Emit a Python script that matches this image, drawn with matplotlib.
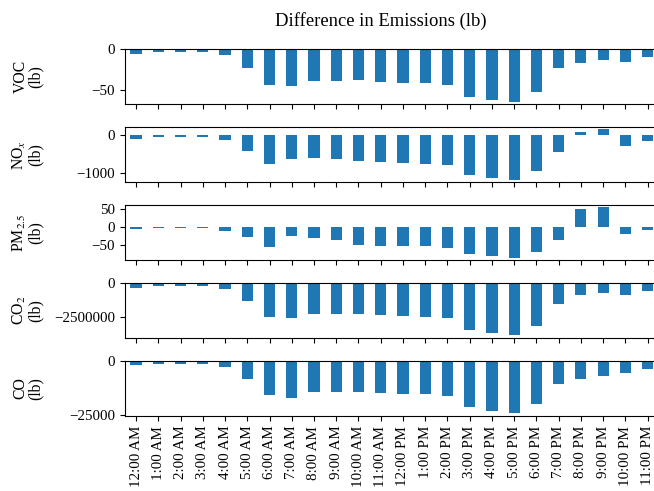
import matplotlib
matplotlib.use("Agg")
import matplotlib.pyplot as plt
import numpy as np

# hourly labels
hours = ["12:00 AM", "1:00 AM", "2:00 AM", "3:00 AM", "4:00 AM", "5:00 AM",
         "6:00 AM", "7:00 AM", "8:00 AM", "9:00 AM", "10:00 AM", "11:00 AM",
         "12:00 PM", "1:00 PM", "2:00 PM", "3:00 PM", "4:00 PM", "5:00 PM",
         "6:00 PM", "7:00 PM", "8:00 PM", "9:00 PM", "10:00 PM", "11:00 PM"]

# difference in emissions, lb
voc = [-5.7, -3.6, -3.6, -4.0, -7.7, -22.6, -43.2, -44.4, -38.3, -38.3, -37.5, -39.5,
       -40.7, -41.5, -43.6, -57.7, -61.7, -63.8, -51.7, -23.4, -16.6, -12.9, -16.2, -10.0]
nox = [-103, -60, -60, -60, -145, -410, -769, -632, -590, -615, -675, -709,
       -735, -744, -786, -1043, -1111, -1162, -940, -444, 77, 137, -282, -171]
pm25 = [-6, -4, -4, -4, -10, -28.7, -55.6, -25, -30.6, -35.2, -49, -51.9,
        -53.7, -53.7, -57.4, -76, -81.5, -85.2, -69.4, -35.2, 51, 54.6, -19.4, -9.3]
co2 = [-360000, -216000, -216000, -216000, -433000, -1298000, -2500000, -2572000,
       -2236000, -2236000, -2236000, -2332000, -2428000, -2452000, -2572000, -3413000,
       -3654000, -3822000, -3125000, -1563000, -913000, -721000, -913000, -577000]
co = [-2121, -1364, -1364, -1364, -2727, -8181, -15453, -16968, -14393, -14393, -14090, -14696,
      -15150, -15302, -16059, -21362, -23028, -24090, -19998, -10454, -8181, -7121, -5757, -3939]

series = [voc, nox, pm25, co2, co]
ylabels = ["VOC\n(lb)", "NO$_x$\n(lb)", "PM$_{2.5}$\n(lb)", "CO$_2$\n(lb)", "CO\n(lb)"]
yticks = [[-50, 0], [-1000, 0], [-50, 0, 50], [-2500000, 0], [-25000, 0]]

plt.rcParams["font.family"] = "serif"
plt.rcParams["font.serif"] = ["Liberation Serif", "DejaVu Serif"]
plt.rcParams["mathtext.fontset"] = "stix"
plt.rcParams["font.size"] = 10.8

fig, axes = plt.subplots(5, 1, sharex=True, figsize=(6.54, 4.91), dpi=100)
fig.subplots_adjust(left=0.191, right=1.0073, top=0.9002, bottom=0.1527, hspace=0.41)

x = np.arange(len(hours))
for ax, vals, lab, yt in zip(axes, series, ylabels, yticks):
    ax.bar(x, vals, width=0.5, color="#1f77b4")
    ax.set_xlim(-0.5, len(hours) - 0.5)
    ax.set_yticks(yt)
    ax.ticklabel_format(axis="y", style="plain", useOffset=False)
    ax.set_ylabel(lab, fontsize=11.3, linespacing=0.95)
    ax.yaxis.set_label_coords(-0.152, 0.5)

axes[-1].set_xticks(x)
axes[-1].set_xticklabels(hours, rotation=90)

fig.text(0.5826, 0.957, "Difference in Emissions (lb)", ha="center", va="center", fontsize=13.4)

fig.savefig("out.png", dpi=100)
